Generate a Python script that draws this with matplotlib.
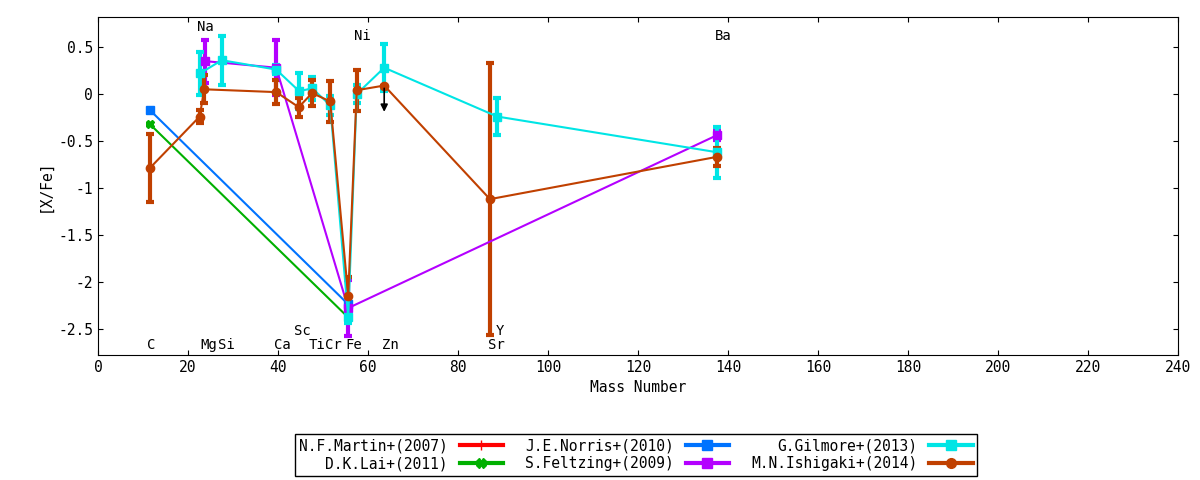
import numpy as np
import matplotlib.pyplot as plt
from matplotlib.lines import Line2D

plt.rcParams["font.family"] = "DejaVu Sans Mono"
plt.rcParams["font.size"] = 10.5

# === Dados de abundancia [X/Fe] ===
martin = {"x": [], "y": [], "e": []}
lai = {"x": [11.5, 55.6], "y": [-0.32, -2.38], "e": [0.0, 0.0]}
norris = {"x": [11.5, 55.6], "y": [-0.17, -2.24], "e": [0.0, 0.0]}
feltzing = {"x": [23.8, 39.6, 55.6, 137.5], "y": [0.35, 0.28, -2.28, -0.44], "e": [0.23, 0.29, 0.3, 0.05]}
gilmore = {"x": [22.7, 27.5, 39.6, 44.7, 47.6, 51.6, 55.6, 57.5, 63.6, 88.7, 137.5],
           "y": [0.22, 0.36, 0.26, 0.03, 0.06, -0.12, -2.38, 0.0, 0.28, -0.24, -0.62],
           "e": [0.23, 0.26, 0.05, 0.19, 0.12, 0.1, 0.06, 0.1, 0.25, 0.2, 0.27]}
ishigaki = {"x": [11.5, 22.6, 23.6, 39.6, 44.6, 47.6, 51.6, 55.6, 57.5, 63.6, 87.1, 137.5],
            "y": [-0.79, -0.24, 0.05, 0.02, -0.14, 0.01, -0.08, -2.15, 0.04, 0.09, -1.12, -0.67],
            "e": [0.36, 0.07, 0.15, 0.13, 0.1, 0.14, 0.22, 0.2, 0.22, 0.0, 1.45, 0.1]}

elementos = [("C", 11.8, -2.67), ("Na", 23.8, 0.71), ("Mg", 24.6, -2.67), ("Si", 28.6, -2.67),
             ("Ca", 40.9, -2.67), ("Sc", 45.5, -2.52), ("Ti", 48.6, -2.67), ("Cr", 52.3, -2.67),
             ("Fe", 56.8, -2.67), ("Ni", 58.8, 0.62), ("Zn", 64.9, -2.67), ("Sr", 88.6, -2.67),
             ("Y", 89.4, -2.52), ("Ba", 138.9, 0.62)]

# === Grafico ===
fig = plt.figure(figsize=(12, 4.8), dpi=100)
ax = fig.add_axes([98 / 1200, 1 - 355 / 480, 1080 / 1200, 338 / 480])

series = [(martin, "N.F.Martin+(2007)", "#ff0000", "+"),
          (lai, "D.K.Lai+(2011)", "#00b000", "X"),
          (norris, "J.E.Norris+(2010)", "#0073ff", "s"),
          (feltzing, "S.Feltzing+(2009)", "#b400ff", "s"),
          (gilmore, "G.Gilmore+(2013)", "#00e5e5", "s"),
          (ishigaki, "M.N.Ishigaki+(2014)", "#c04000", "o")]

alcas = []
for d, nome, cor, m in series:
    ax.errorbar(d["x"], d["y"], yerr=d["e"], color=cor, marker=m, markersize=6, lw=1.5,
                elinewidth=3, capsize=3, capthick=3)
    alcas.append(Line2D([], [], color=cor, lw=3, marker=m, markersize=7, label=nome))

# limite superior do Zn
ax.annotate("", xy=(63.6, -0.22), xytext=(63.6, 0.09),
            arrowprops=dict(arrowstyle="-|>", color="black", lw=1.2))

for nome, x, y in elementos:
    ax.text(x, y, nome, ha="center", va="center", fontsize=10)

ax.set_xlim(0, 240)
ax.set_ylim(-2.78, 0.82)
ax.set_xticks(np.arange(0, 241, 20))
ax.set_yticks([0.5, 0, -0.5, -1, -1.5, -2, -2.5])
ax.set_yticklabels(["0.5", "0", "-0.5", "-1", "-1.5", "-2", "-2.5"])
ax.tick_params(direction="in", top=True, right=True)
ax.set_xlabel("Mass Number")
ax.set_ylabel("[X/Fe]")

fig.legend(handles=alcas, ncol=3, markerfirst=False,
           loc="center", bbox_to_anchor=(636 / 1200, 1 - 455 / 480), fancybox=False,
           edgecolor="black", framealpha=1, handlelength=3, columnspacing=1.5,
           borderpad=0.3, labelspacing=0.2)

fig.savefig("out.png")
